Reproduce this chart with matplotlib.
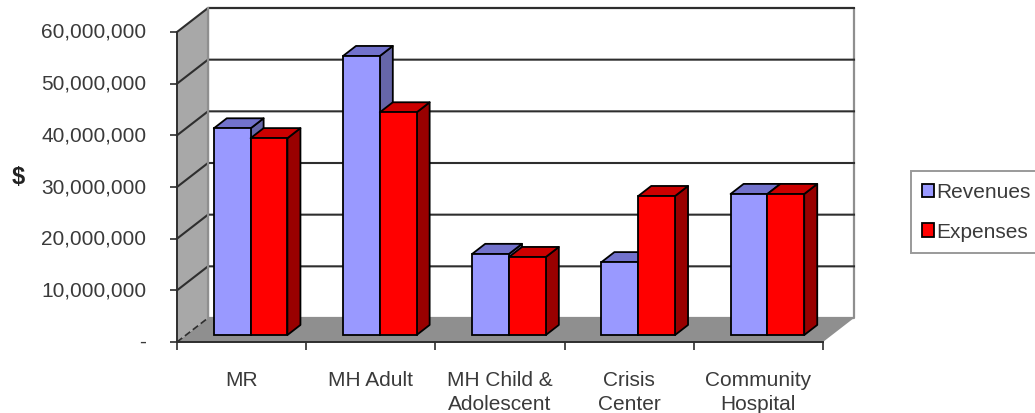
import matplotlib
matplotlib.use('Agg')
import numpy as np
import matplotlib.pyplot as plt
from matplotlib.patches import Polygon, Patch
from matplotlib.transforms import ScaledTranslation

plt.rcParams['font.family'] = ['Liberation Sans', 'DejaVu Sans']

categories = ['MR', 'MH Adult', 'MH Child &\nAdolescent', 'Crisis\nCenter', 'Community\nHospital']
revenues = [40.0e6, 54.0e6, 15.7e6, 14.1e6, 27.3e6]
expenses = [38.1e6, 43.1e6, 15.1e6, 26.9e6, 27.3e6]
y_ticks = [0, 10e6, 20e6, 30e6, 40e6, 50e6, 60e6]
y_labels = ['-', '10,000,000', '20,000,000', '30,000,000', '40,000,000', '50,000,000', '60,000,000']

W, H = 1035, 414
text_col = '#3a3a3a'
line_col = '#2e2e2e'

fig = plt.figure(figsize=(W / 100, H / 100), dpi=100)
# front plane of the fake 3d box
ax = fig.add_axes([177 / W, 1 - 343 / H, 646 / W, 310 / H])
ax.set_xlim(0, 5)
ax.set_ylim(0, 60e6)

# depth of the whole box and of a bar, in data units
depth_x = 31 / 129.2
depth_y = 24 / 310 * 60e6
bar_start = 0.29
bar_end = 0.71
bar_w = 0.285
gap = (1 - 2 * bar_w) / 2


def poly(pts, fc, ec='none', lw=0, z=1):
    ax.add_patch(Polygon(pts, closed=True, facecolor=fc, edgecolor=ec, linewidth=lw,
                         zorder=z, clip_on=False, joinstyle='round'))


def bar3d(x, val, fc, top_c, side_c, z):
    x0 = x + depth_x * bar_start
    b = depth_y * bar_start
    dx = depth_x * (bar_end - bar_start)
    dy = depth_y * (bar_end - bar_start)
    t = b + val
    r = x0 + bar_w
    poly([(r, b), (r + dx, b + dy), (r + dx, t + dy), (r, t)], side_c, 'black', 1.3, z)
    poly([(x0, t), (x0 + dx, t + dy), (r + dx, t + dy), (r, t)], top_c, 'black', 1.3, z)
    ax.bar(x0, val, width=bar_w, bottom=b, align='edge', color=fc, edgecolor='black',
           linewidth=1.3, zorder=z, clip_on=False)


# walls and floor
poly([(depth_x, depth_y), (5 + depth_x, depth_y), (5 + depth_x, 60e6 + depth_y), (depth_x, 60e6 + depth_y)],
     'white', '#8f8f8f', 1.6, 1)
poly([(0, 0), (depth_x, depth_y), (depth_x, 60e6 + depth_y), (0, 60e6)], '#a8a8a8', 'none', 0, 1)
poly([(0, 0), (5, 0), (5 + depth_x, depth_y), (depth_x, depth_y)], '#8f8f8f', 'none', 0, 1)

# gridlines round the side wall and across the back
for v in y_ticks[1:]:
    ax.plot([0, depth_x, 5 + depth_x], [v, v + depth_y, v + depth_y], color=line_col, lw=1.5,
            zorder=2, clip_on=False)
ax.plot([0, depth_x], [0, depth_y], color=line_col, lw=1.2, ls=(0, (4, 2)), zorder=2, clip_on=False)
ax.plot([depth_x, depth_x], [depth_y, 60e6 + depth_y], color='#8f8f8f', lw=1.6, zorder=2, clip_on=False)

for i in range(len(categories)):
    bar3d(i + gap, revenues[i], '#9999ff', '#7272cc', '#6666a8', 3 + i * 2)
    bar3d(i + gap + bar_w, expenses[i], '#ff0000', '#cc0000', '#990000', 4 + i * 2)

for s in ['top', 'right']:
    ax.spines[s].set_visible(False)
for s in ['left', 'bottom']:
    ax.spines[s].set_color(line_col)
    ax.spines[s].set_linewidth(1.4)
    ax.spines[s].set_zorder(20)

ax.set_yticks(y_ticks)
ax.set_yticklabels(y_labels, fontsize=15, color=text_col)
ax.tick_params(axis='y', length=5, width=1.2, color=line_col, pad=17)
# labels sit slightly above their ticks in the reference
up = ScaledTranslation(0, 2.5 / 100, fig.dpi_scale_trans)
for lbl in ax.get_yticklabels():
    lbl.set_transform(lbl.get_transform() + up)

ax.set_xticks(np.arange(6))
ax.set_xticklabels([])
ax.set_xticks(np.arange(5) + 0.5, minor=True)
ax.set_xticklabels(categories, minor=True, fontsize=15, color=text_col, linespacing=1.38)
ax.tick_params(axis='x', which='major', length=6, width=1.2, color=line_col)
ax.tick_params(axis='x', which='minor', length=0, pad=20)

fig.text(18 / W, 1 - 178 / H, '$', fontsize=17, fontweight='bold', color='#222222', ha='center', va='center')

handles = [Patch(facecolor='#9999ff', edgecolor='black', linewidth=1.3),
           Patch(facecolor='#ff0000', edgecolor='black', linewidth=1.3)]
leg = fig.legend(handles, ['Revenues', 'Expenses'], loc='upper left',
                 bbox_to_anchor=(911 / W, 1 - 172 / H), fontsize=15, frameon=True, fancybox=False,
                 edgecolor='#808080', handlelength=0.55, handleheight=0.6, handletextpad=0.1,
                 labelspacing=1.0, borderpad=0.55, borderaxespad=0, labelcolor=text_col)
leg.get_frame().set_linewidth(1.4)

fig.savefig('out.png', dpi=100)
